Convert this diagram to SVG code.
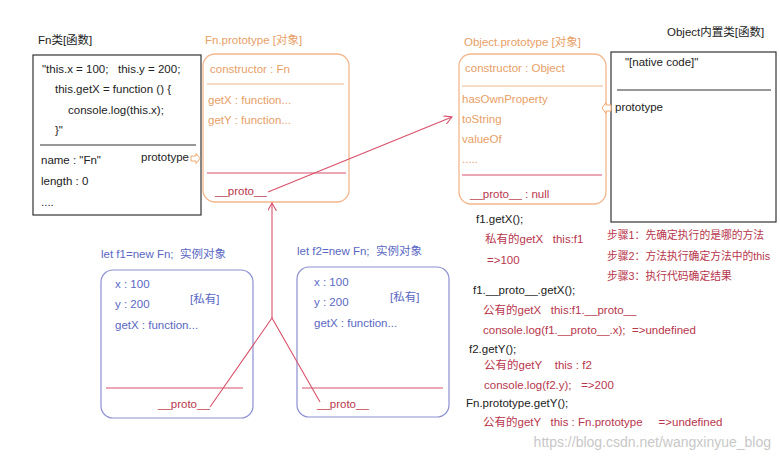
<svg xmlns="http://www.w3.org/2000/svg" width="780" height="460" viewBox="0 0 780 460">
<defs>
<style>
text{font-family:"Liberation Sans","Noto Sans CJK SC",sans-serif;font-size:11.5px;white-space:pre}
.k{fill:#222}
.o{fill:#e8a066}
.r{fill:#b8364c}
.b{fill:#5a67c4}
.s{font-size:10.8px}
.ob{fill:none;stroke:#f2b78c;stroke-width:1.3}
.pb{fill:none;stroke:#8c8fd0;stroke-width:1.2}
.kb{fill:none;stroke:#333;stroke-width:1.2}
.rl{stroke:#d9506a;stroke-width:1.1;fill:none}
.ol{stroke:#f2b78c;stroke-width:1.2}
.kl{stroke:#333;stroke-width:1.2}
.ha{fill:#fff;stroke:#f0a870;stroke-width:1}
.wm{fill:#c8c8c8;font-size:14px;font-family:"Liberation Sans Narrow","Liberation Sans",sans-serif}
</style>
<marker id="ah" viewBox="0 0 10 10" refX="9" refY="5" markerWidth="9" markerHeight="9" orient="auto" markerUnits="userSpaceOnUse">
<path d="M0,0 L9,5 L0,10" fill="none" stroke="#d9506a" stroke-width="1.2"/>
</marker>
</defs>
<rect width="780" height="460" fill="#fff"/>

<g id="fn-class">
<text class="k" x="38" y="44">Fn类[函数]</text>
<rect class="kb" x="33" y="55" width="168" height="160"/>
<line class="kl" x1="40" y1="145" x2="196" y2="145"/>
<text class="k" x="42" y="73" xml:space="preserve">"this.x = 100;   this.y = 200;</text>
<text class="k" x="55" y="93">this.getX = function () {</text>
<text class="k" x="68" y="114">console.log(this.x);</text>
<text class="k" x="55" y="134">}"</text>
<text class="k" x="41" y="164">name : "Fn"</text>
<text class="k" x="141" y="161">prototype</text>
<text class="k" x="41" y="185">length : 0</text>
<text class="k" x="41" y="206">....</text>
</g>

<g id="fn-prototype">
<text class="o" x="205" y="44">Fn.prototype [对象]</text>
<rect class="ob" x="203" y="54" width="146" height="148" rx="12"/>
<line class="ol" x1="207" y1="84" x2="344" y2="84"/>
<text class="o" x="210" y="73">constructor : Fn</text>
<text class="o" x="208" y="104">getX : function...</text>
<text class="o" x="208" y="124">getY : function...</text>
<line class="rl" x1="207" y1="173" x2="346" y2="173"/>
<text class="r" x="215" y="195">__proto__</text>
</g>

<g id="object-prototype">
<text class="o" x="464" y="46">Object.prototype [对象]</text>
<rect class="ob" x="459" y="54" width="147" height="150" rx="12"/>
<line class="ol" x1="462" y1="86" x2="603" y2="86"/>
<text class="o" x="465" y="72">constructor : Object</text>
<text class="o" x="462" y="103">hasOwnProperty</text>
<text class="o" x="462" y="123">toString</text>
<text class="o" x="462" y="143">valueOf</text>
<text class="o" x="462" y="163">.....</text>
<line class="rl" x1="462" y1="175" x2="602" y2="175"/>
<text class="r" x="470" y="198">__proto__ : null</text>
</g>

<g id="object-class">
<text class="k" x="667" y="36">Object内置类[函数]</text>
<rect class="kb" x="611" y="52" width="165" height="170"/>
<line class="kl" x1="617" y1="90" x2="771" y2="90"/>
<text class="k" x="625" y="66">"[native code]"</text>
<text class="k" x="615" y="111">prototype</text>
</g>

<g id="f1">
<text class="b" x="101" y="258" xml:space="preserve">let f1=new Fn;  实例对象</text>
<rect class="pb" x="101" y="270" width="152" height="148" rx="12"/>
<text class="b" x="115" y="288">x : 100</text>
<text class="b" x="115" y="308">y : 200</text>
<text class="b" x="190" y="303">[私有]</text>
<text class="b" x="115" y="329">getX : function...</text>
<line class="rl" x1="106" y1="388" x2="243" y2="388"/>
<text class="r" x="158" y="408">__proto__</text>
</g>

<g id="f2">
<text class="b" x="297" y="255" xml:space="preserve">let f2=new Fn;  实例对象</text>
<rect class="pb" x="297" y="267" width="152" height="150" rx="12"/>
<text class="b" x="314" y="286">x : 100</text>
<text class="b" x="314" y="306">y : 200</text>
<text class="b" x="390" y="301">[私有]</text>
<text class="b" x="314" y="327">getX : function...</text>
<line class="rl" x1="302" y1="388" x2="443" y2="388"/>
<text class="r" x="317" y="408">__proto__</text>
</g>

<g id="connectors">
<path class="rl" d="M268,192 L452,117" marker-end="url(#ah)"/>
<path class="rl" d="M210,407 L272,318 L320,402"/>
<path class="rl" d="M272,318 L272,203" marker-end="url(#ah)"/>
<path class="ha" d="M191,156 L196,156 L196,153.5 L200,158.5 L196,163.5 L196,161 L191,161 Z"/>
<path class="ha" d="M611,105 L606,105 L606,102.5 L602,108 L606,113.5 L606,111 L611,111 Z"/>
</g>

<g id="notes">
<text class="k" x="476" y="223">f1.getX();</text>
<text class="r" x="485" y="243" xml:space="preserve">私有的getX   this:f1</text>
<text class="r" x="487" y="264">=&gt;100</text>
<text class="k" x="473" y="294">f1.__proto__.getX();</text>
<text class="r" x="483" y="314" xml:space="preserve">公有的getX   this:f1.__proto__</text>
<text class="r" x="483" y="334" xml:space="preserve">console.log(f1.__proto__.x);  =&gt;undefined</text>
<text class="k" x="469" y="353">f2.getY();</text>
<text class="r" x="484" y="369" xml:space="preserve">公有的getY    this : f2</text>
<text class="r" x="484" y="389" xml:space="preserve">console.log(f2.y);   =&gt;200</text>
<text class="k" x="466" y="407">Fn.prototype.getY();</text>
<text class="r" x="483" y="426" xml:space="preserve">公有的getY   this : Fn.prototype     =&gt;undefined</text>
<text class="r s" x="607" y="239">步骤1：先确定执行的是哪的方法</text>
<text class="r s" x="607" y="260">步骤2：方法执行确定方法中的this</text>
<text class="r s" x="607" y="280">步骤3：执行代码确定结果</text>
<text class="wm" x="771" y="447" text-anchor="end">https://blog.csdn.net/wangxinyue_blog</text>
</g>
</svg>
